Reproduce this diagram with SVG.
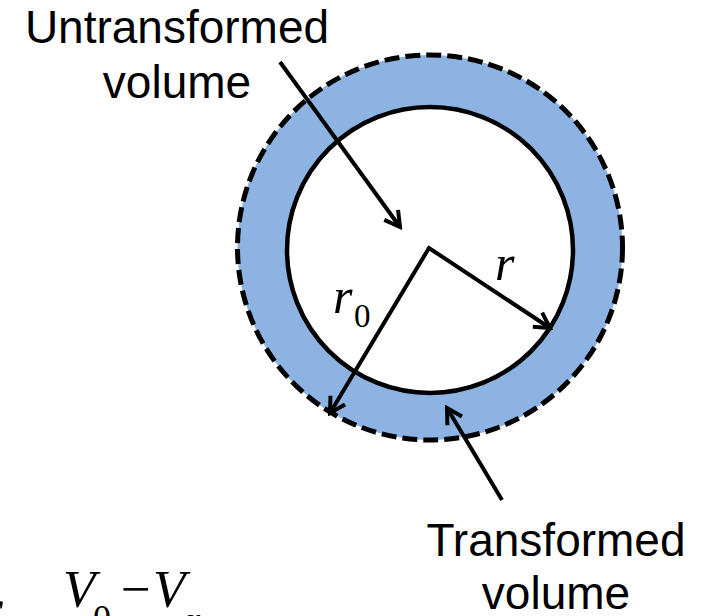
<svg xmlns="http://www.w3.org/2000/svg" width="706" height="616" viewBox="0 0 706 616">
  <style>
    .label { font-family: "Liberation Sans", Arial, sans-serif; font-size: 46px; fill: #000; text-anchor: middle; }
    .math { font-family: "Liberation Serif", "Times New Roman", serif; fill: #000; }
    .it { font-style: italic; }
    .conn { fill: none; stroke: #000; stroke-width: 4; stroke-linejoin: miter; }
  </style>
  <defs>
    <marker id="arrow" markerUnits="userSpaceOnUse" markerWidth="22" markerHeight="22" viewBox="0 0 22 22" refX="19" refY="11" orient="auto-start-reverse">
      <path d="M4,2.5 L19,11 L4,19.5" fill="none" stroke="#000" stroke-width="4" stroke-linecap="butt" stroke-linejoin="miter"/>
    </marker>
  </defs>
  <rect width="706" height="616" fill="#fff"/>

  <g id="transformed-ring">
    <circle cx="430" cy="247.5" r="192.5" fill="#8DB3E2" stroke="#000" stroke-width="5" stroke-dasharray="15 6"/>
  </g>
  <g id="untransformed-core">
    <circle cx="430" cy="250" r="143" fill="#fff" stroke="#000" stroke-width="4.5"/>
  </g>

  <g id="connectors">
    <path class="conn" d="M330,413 L429,248 L550,328" marker-start="url(#arrow)" marker-end="url(#arrow)"/>
    <path class="conn" d="M280,62 L400,227" marker-end="url(#arrow)"/>
    <path class="conn" d="M502,500 L447,408" marker-end="url(#arrow)"/>
  </g>

  <g id="label-r">
    <text class="math it" x="495" y="280" font-size="50">r</text>
  </g>
  <g id="label-r0">
    <text class="math" x="333" y="313" font-size="50"><tspan class="it">r</tspan><tspan font-size="33" x="354" y="327">0</tspan></text>
  </g>

  <g id="label-untransformed">
    <text class="label" x="177" y="43">Untransformed</text>
    <text class="label" x="177" y="98">volume</text>
  </g>
  <g id="label-transformed">
    <text class="label" x="556" y="556">Transformed</text>
    <text class="label" x="556" y="609">volume</text>
  </g>

  <g id="formula">
    <text class="math it" x="-20" y="625" font-size="53">c</text>
    <text class="math" y="607" font-size="53"><tspan class="it" x="63">V</tspan><tspan x="93" y="630" font-size="36">0</tspan><tspan x="121" y="607">−</tspan><tspan class="it" x="153" y="607">V</tspan><tspan class="it" x="186" y="632" font-size="36">r</tspan></text>
  </g>
</svg>
